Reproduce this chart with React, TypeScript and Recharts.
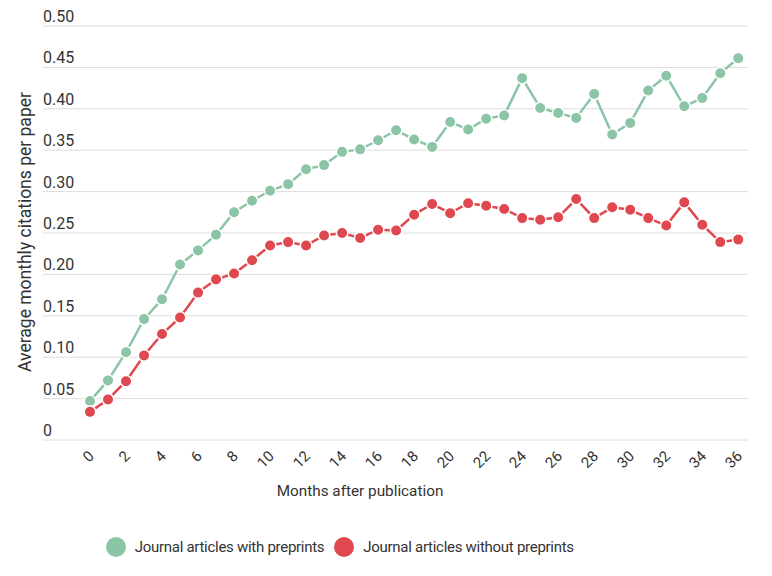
import React from "react";
import { LineChart, Line, XAxis, YAxis, CartesianGrid } from "recharts";

const months = [0,1,2,3,4,5,6,7,8,9,10,11,12,13,14,15,16,17,18,19,20,21,22,23,24,25,26,27,28,29,30,31,32,33,34,35,36];
const withPreprints = [0.047,0.072,0.106,0.146,0.17,0.212,0.229,0.248,0.275,0.289,0.301,0.309,0.327,0.332,0.348,0.351,0.362,0.374,0.363,0.354,0.384,0.375,0.388,0.392,0.437,0.401,0.395,0.389,0.418,0.369,0.383,0.422,0.44,0.403,0.413,0.443,0.461];
const withoutPreprints = [0.034,0.049,0.071,0.102,0.128,0.148,0.178,0.194,0.201,0.217,0.235,0.239,0.235,0.247,0.25,0.244,0.254,0.253,0.272,0.285,0.274,0.286,0.283,0.279,0.268,0.266,0.269,0.291,0.268,0.281,0.278,0.268,0.259,0.287,0.26,0.239,0.242];
const xTicks = [0,2,4,6,8,10,12,14,16,18,20,22,24,26,28,30,32,34,36];
const yTicks = [0,0.05,0.1,0.15,0.2,0.25,0.3,0.35,0.4,0.45,0.5];
const seriesNames = ["Journal articles with preprints", "Journal articles without preprints"];
const seriesColors = ["#8cc5a6", "#e0484f"];

const data = months.map((m, i) => ({ month: m, a: withPreprints[i], b: withoutPreprints[i] }));

const FONT = "Roboto, 'Noto Sans', sans-serif";
const TEXT = "#333333";

const YTick = (props: any) => {
  const { y, payload } = props;
  const v = payload.value;
  const label = v === 0 ? "0" : v.toFixed(2);
  return (
    <text x={43} y={y - 4} textAnchor="start" fontSize={16} fontFamily={FONT} fill={TEXT}>
      {label}
    </text>
  );
};

const XTick = (props: any) => {
  const { x, y, payload } = props;
  const tx = x + 5;
  const ty = y + 17;
  return (
    <text x={tx} y={ty} textAnchor="end" fontSize={15} fontFamily={FONT} fill={TEXT} transform={`rotate(-45, ${tx}, ${ty})`}>
      {payload.value}
    </text>
  );
};

export default function App() {
  return (
    <div style={{ position: "absolute", left: 0, top: 0, width: 772, height: 576, background: "#fff" }}>
      <LineChart width={772} height={576} data={data} margin={{ top: 26, right: 24, bottom: 106, left: 0 }}>
        <CartesianGrid vertical={false} stroke="#dcdcdc" strokeWidth={1} />
        <XAxis
          dataKey="month"
          type="number"
          domain={[-2.61, 36.54]}
          allowDataOverflow
          ticks={xTicks}
          interval={0}
          axisLine={false}
          tickLine={false}
          tickSize={0}
          tickMargin={0}
          tick={<XTick />}
          height={30}
          label={{
            content: () => (
              <text x={360} y={496} textAnchor="middle" fontSize={15.3} fontFamily={FONT} fill={TEXT}>
                Months after publication
              </text>
            ),
          }}
        />
        <YAxis
          type="number"
          domain={[0, 0.5]}
          ticks={yTicks}
          width={43}
          axisLine={false}
          tickLine={false}
          tick={<YTick />}
          label={{
            content: () => (
              <text x={31} y={232} textAnchor="middle" fontSize={17.5} fontFamily={FONT} fill={TEXT} transform="rotate(-90, 31, 232)">
                Average monthly citations per paper
              </text>
            ),
          }}
        />
        <Line
          dataKey="a"
          name={seriesNames[0]}
          stroke={seriesColors[0]}
          strokeWidth={2.5}
          dot={{ r: 5.75, fill: seriesColors[0], stroke: "#fff", strokeWidth: 1.5 }}
          activeDot={false}
          isAnimationActive={false}
        />
        <Line
          dataKey="b"
          name={seriesNames[1]}
          stroke={seriesColors[1]}
          strokeWidth={2.5}
          dot={{ r: 5.75, fill: seriesColors[1], stroke: "#fff", strokeWidth: 1.5 }}
          activeDot={false}
          isAnimationActive={false}
        />
      </LineChart>
      <div style={{ position: "absolute", left: 105.7, top: 536.7, height: 20, display: "flex", alignItems: "center", fontFamily: FONT, fontSize: 15, letterSpacing: -0.28, color: TEXT, whiteSpace: "nowrap" }}>
        {seriesNames.map((n, i) => (
          <div key={n} style={{ display: "flex", alignItems: "center", marginRight: 10 }}>
            <span style={{ display: "inline-block", width: 20, height: 20, borderRadius: 10, background: seriesColors[i], marginRight: 9 }} />
            <span>{n}</span>
          </div>
        ))}
      </div>
    </div>
  );
}
